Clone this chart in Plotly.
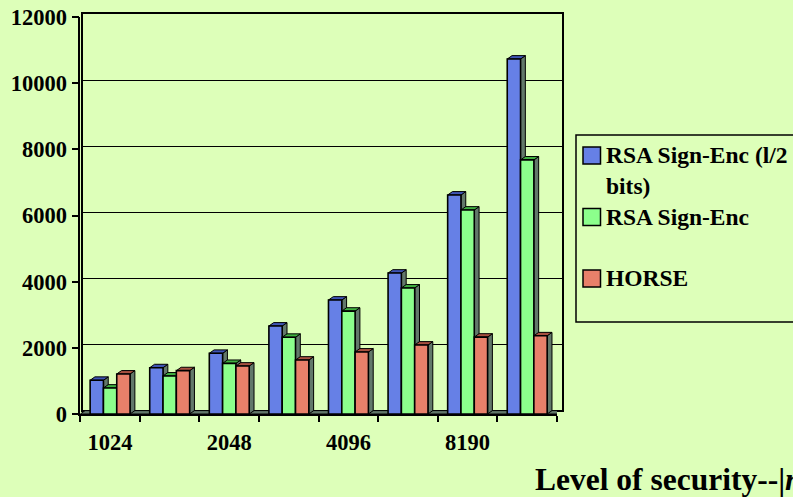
import plotly.graph_objects as go

# Series values by key size
group_positions = list(range(8))
group_labels = ["1024", "", "2048", "", "4096", "", "8190", ""]
rsa_half = [1020, 1400, 1835, 2660, 3445, 4260, 6620, 10730]
rsa_full = [785, 1150, 1530, 2320, 3110, 3810, 6165, 7680]
horse = [1210, 1310, 1450, 1630, 1875, 2085, 2325, 2365]
y_ticks = [0, 2000, 4000, 6000, 8000, 10000, 12000]
y_tick_labels = ["0", "2000", "4000", "6000", "8000", "10000", "12000"]

series = [
    ("RSA Sign-Enc (l/2<br>bits)", rsa_half, "#6680E6", "#3F55B5"),
    ("RSA Sign-Enc", rsa_full, "#8CFF8C", "#3FB040"),
    ("HORSE", horse, "#E8806A", "#A85040"),
]

W, H = 793, 497
BG = "#DDFFB9"
SIDE = "#62786A"
SERIF = "Liberation Serif"
BARGAP = 0.33

# Pixel frames for the front plane and the back wall of the pseudo-3D box
FRONT = (80.3, 557.0, 414.0, 17.0)
BACK = (83.3, 561.7, 410.0, 14.0)
X_RANGE = [-0.5, 7.5]
Y_RANGE = [0, 12000]


def xdom(a, b):
    return [a / W, b / W]


def ydom(bottom, top):
    return [1 - bottom / H, 1 - top / H]


# Depth of the extruded bars, as axis units
dx = 4.8 / ((FRONT[1] - FRONT[0]) / 8)
dy = 3.4 / ((FRONT[2] - FRONT[3]) / 12000)
bar_w = (1 - BARGAP) / 3

fig = go.Figure()

# Floor of the box
floor_x = [X_RANGE[0], X_RANGE[1], X_RANGE[1] + dx, X_RANGE[0] + dx, X_RANGE[0]]
floor_y = [0, 0, dy, dy, 0]
fig.add_trace(go.Scatter(
    x=floor_x, y=floor_y, xaxis="x2", yaxis="y2", mode="lines", fill="toself",
    fillcolor=SIDE, line=dict(color="#000000", width=1), hoverinfo="skip",
    showlegend=False, cliponaxis=False,
))

# Top and side faces, one polygon per bar, computed from the values
for s, (name, values, color, top_color) in enumerate(series):
    left_off = -1.5 * bar_w + s * bar_w
    top_x, top_y, side_x, side_y = [], [], [], []
    for p, v in zip(group_positions, values):
        l = p + left_off
        r = l + bar_w
        top_x += [l, r, r + dx, l + dx, l, None]
        top_y += [v, v, v + dy, v + dy, v, None]
        side_x += [r, r + dx, r + dx, r, r, None]
        side_y += [0, dy, v + dy, v, 0, None]
    for fx, fy, fc in ((side_x, side_y, SIDE), (top_x, top_y, top_color)):
        fig.add_trace(go.Scatter(
            x=fx, y=fy, xaxis="x2", yaxis="y2", mode="lines", fill="toself",
            fillcolor=fc, line=dict(color="#000000", width=1), hoverinfo="skip",
            showlegend=False, cliponaxis=False,
        ))

# Front faces of the bars
for name, values, color, _ in series:
    fig.add_trace(go.Bar(
        x=group_positions, y=values, name=name, xaxis="x3", yaxis="y3",
        marker=dict(color=color, line=dict(color="#000000", width=1.6)),
        showlegend=False, cliponaxis=False,
    ))

# Invisible trace so the back wall subplot is created
fig.add_trace(go.Scatter(x=[0], y=[0], xaxis="x", yaxis="y", mode="none",
                         hoverinfo="skip", showlegend=False))

axis_font = dict(family=SERIF, size=22.5, color="#000000", weight="bold")

fig.update_layout(
    width=W, height=H, autosize=False,
    margin=dict(l=0, r=0, t=0, b=0, autoexpand=False),
    paper_bgcolor=BG, plot_bgcolor="rgba(0,0,0,0)",
    barmode="group", bargap=BARGAP, bargroupgap=0,
    xaxis=dict(domain=xdom(BACK[0], BACK[1]), range=X_RANGE, showgrid=False,
               showticklabels=False, ticks="", zeroline=False, mirror=True,
               automargin=False,
               showline=True, linecolor="#000000", linewidth=1.5),
    yaxis=dict(domain=ydom(BACK[2], BACK[3]), range=Y_RANGE, anchor="x",
               tickvals=y_ticks, showticklabels=False, ticks="", showgrid=True,
               automargin=False,
               gridcolor="#000000", gridwidth=1.2, zeroline=False, mirror=True,
               showline=True, linecolor="#000000", linewidth=1.5),
    xaxis2=dict(domain=xdom(FRONT[0], FRONT[1]), range=X_RANGE, anchor="y2",
                tickvals=[p - 0.5 for p in group_positions] + [7.5],
                ticktext=[""] * 9, ticks="outside", ticklen=6, tickwidth=1.5,
                automargin=False,
                tickcolor="#000000", showgrid=False, zeroline=False,
                showline=True, linecolor="#000000", linewidth=2),
    yaxis2=dict(domain=ydom(FRONT[2], FRONT[3]), range=Y_RANGE, anchor="x2",
                tickvals=y_ticks, ticktext=y_tick_labels, ticks="outside",
                ticklen=7, tickwidth=1.5, automargin=False,
                tickcolor="#000000", showgrid=False, zeroline=False,
                showline=True, linecolor="#000000", linewidth=1.5,
                tickfont=axis_font),
    xaxis3=dict(overlaying="x2", range=X_RANGE, anchor="y3",
                tickvals=group_positions, ticktext=group_labels, ticks="",
                ticklabelstandoff=12, tickfont=axis_font, showgrid=False,
                automargin=False, zeroline=False, showline=False),
    yaxis3=dict(overlaying="y2", range=Y_RANGE, anchor="x3", showticklabels=False,
                automargin=False, ticks="", showgrid=False, zeroline=False,
                showline=False),
)


def px_x(v):
    return v / W


def px_y(v):
    return 1 - v / H


# Legend panel, running off the right edge
shapes = [dict(type="rect", xref="paper", yref="paper", x0=px_x(576), x1=px_x(800),
               y0=px_y(322), y1=px_y(135), line=dict(color="#000000", width=1.5),
               fillcolor=BG, layer="above")]
legend_rows = [(155.5, 170), (217, 217), (278.5, 278)]
annotations = []
for (name, _, color, _), (swatch_y, text_y) in zip(series, legend_rows):
    shapes.append(dict(type="rect", xref="paper", yref="paper",
                       x0=px_x(583), x1=px_x(600.5), y0=px_y(swatch_y + 8.5),
                       y1=px_y(swatch_y - 8.5), fillcolor=color,
                       line=dict(color="#000000", width=1.5), layer="above"))
    annotations.append(dict(xref="paper", yref="paper", x=px_x(604), y=px_y(text_y),
                            xanchor="left", yanchor="middle", align="left",
                            text=name, showarrow=False,
                            font=dict(family=SERIF, size=23.5, color="#000000",
                                      weight="bold")))

# Axis caption, cut off by the page edge
annotations.append(dict(xref="paper", yref="paper", x=px_x(533), y=px_y(479),
                        xanchor="left", yanchor="middle", align="left",
                        text="Level of security--|<i>n</i>|", showarrow=False,
                        font=dict(family=SERIF, size=31.5, color="#000000", weight="bold")))

fig.update_layout(shapes=shapes, annotations=annotations)
fig.write_html("out.html")
